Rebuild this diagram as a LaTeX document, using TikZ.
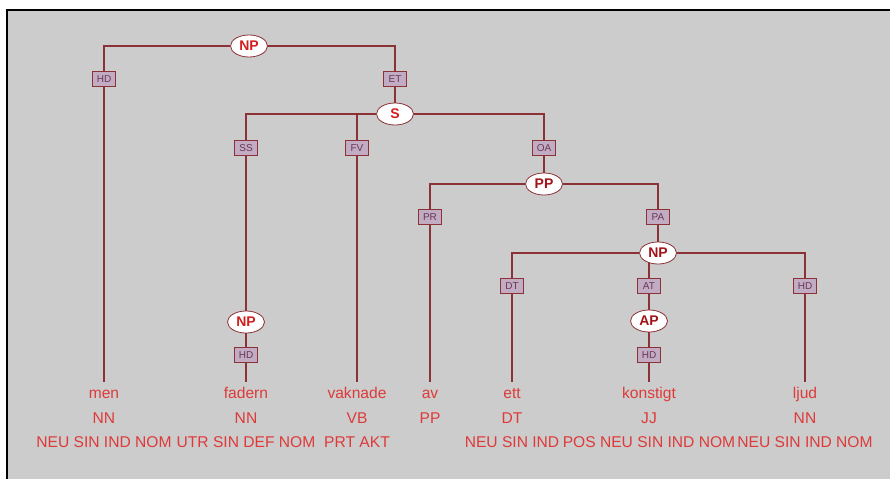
\documentclass[tikz,border=0pt]{standalone}
\usepackage{fontspec}
\setmainfont{Liberation Sans}
\usetikzlibrary{shapes.geometric}

\definecolor{edgered}{RGB}{140,50,55}
\definecolor{catred}{RGB}{210,30,30}
\definecolor{catdark}{RGB}{160,20,25}
\definecolor{wordred}{RGB}{222,58,58}
\definecolor{boxfill}{RGB}{194,172,196}
\definecolor{boxtext}{RGB}{105,55,85}
\definecolor{panel}{RGB}{204,204,204}

\pgfdeclarelayer{bg}
\pgfsetlayers{bg,main}

\begin{document}
\begin{tikzpicture}[
            x=1pt, y=-1pt,
            cat/.style={draw=edgered, thick, ellipse, fill=white, minimum width=37pt, minimum height=22pt, inner sep=0pt, text=catred, font=\fontsize{14}{14}\selectfont\bfseries},
            catd/.style={cat, text=catdark},
            fn/.style={draw=edgered, thick, fill=boxfill, minimum width=23pt, minimum height=15pt, inner sep=1pt, text=boxtext, font=\fontsize{10}{10}\selectfont},
            word/.style={text=wordred, font=\fontsize{15.6}{15.6}\selectfont, text height=11pt, text depth=3pt, inner ysep=5pt, inner xsep=1pt},
            edge/.style={draw=edgered, line width=1.6pt}
        ]
        \useasboundingbox (0,0) rectangle (890,479);

        % categories
        \node[cat] (np1) at (249,46) {NP};
        \node[cat] (s) at (395,114) {S};
        \node[cat] (np2) at (246,322) {NP};
        \node[catd] (pp) at (544,184) {PP};
        \node[catd] (np3) at (658,253) {NP};
        \node[catd] (ap) at (649,321) {AP};

        % functions
        \node[fn] (hd1) at (104,79) {HD};
        \node[fn] (et) at (395,79) {ET};
        \node[fn] (ss) at (246,148) {SS};
        \node[fn] (fv) at (357,148) {FV};
        \node[fn] (oa) at (544,148) {OA};
        \node[fn] (hd2) at (246,355) {HD};
        \node[fn] (pr) at (430,217) {PR};
        \node[fn] (pa) at (658,217) {PA};
        \node[fn] (dt) at (512,286) {DT};
        \node[fn] (at) at (649,286) {AT};
        \node[fn] (hd3) at (805,286) {HD};
        \node[fn] (hd4) at (649,355) {HD};

        % words
        \node[word] (men) at (104,394) {men};
        \node[word] (fadern) at (246,394) {fadern};
        \node[word] (vaknade) at (357,394) {vaknade};
        \node[word] (av) at (430,394) {av};
        \node[word] (ett) at (512,394) {ett};
        \node[word] (konstigt) at (649,394) {konstigt};
        \node[word] (ljud) at (805,394) {ljud};

        % tags
        \node[word] (men-pos) at (104,419) {NN};
        \node[word] (fadern-pos) at (246,419) {NN};
        \node[word] (vaknade-pos) at (357,419) {VB};
        \node[word] (av-pos) at (430,419) {PP};
        \node[word] (ett-pos) at (512,419) {DT};
        \node[word] (konstigt-pos) at (649,419) {JJ};
        \node[word] (ljud-pos) at (805,419) {NN};

        % morphology
        \node[word] (men-mor) at (104,443) {NEU SIN IND NOM};
        \node[word] (fadern-mor) at (246,443) {UTR SIN DEF NOM};
        \node[word] (vaknade-mor) at (357,443) {PRT AKT};
        \node[word] (ett-mor) at (512,443) {NEU SIN IND};
        \node[word] (konstigt-mor) at (649,443) {POS NEU SIN IND NOM};
        \node[word] (ljud-mor) at (805,443) {NEU SIN IND NOM};

        \begin{pgfonlayer}{bg}
            % panel
            \fill[white] (0,0) rectangle (890,479);
            \fill[panel] (7,10) rectangle (890,479);
            \draw[line width=2.2pt] (7,479) -- (7,10) -- (890,10);

            % edges
            \draw[edge] (np1) -| (hd1);
            \draw[edge] (np1) -| (et);
            \draw[edge] (hd1) -- (men);
            \draw[edge] (et) -- (s);
            \draw[edge] (s) -| (ss);
            \draw[edge] (s) -| (fv);
            \draw[edge] (s) -| (oa);
            \draw[edge] (ss) -- (np2);
            \draw[edge] (np2) -- (hd2);
            \draw[edge] (hd2) -- (fadern);
            \draw[edge] (fv) -- (vaknade);
            \draw[edge] (oa) -- (pp);
            \draw[edge] (pp) -| (pr);
            \draw[edge] (pp) -| (pa);
            \draw[edge] (pr) -- (av);
            \draw[edge] (pa) -- (np3);
            \draw[edge] (np3) -| (dt);
            \draw[edge] (np3) -| (hd3);
            \draw[edge] (at |- np3) -- (at);
            \draw[edge] (dt) -- (ett);
            \draw[edge] (at) -- (ap);
            \draw[edge] (ap) -- (hd4);
            \draw[edge] (hd4) -- (konstigt);
            \draw[edge] (hd3) -- (ljud);
        \end{pgfonlayer}

    \end{tikzpicture}
\end{document}
